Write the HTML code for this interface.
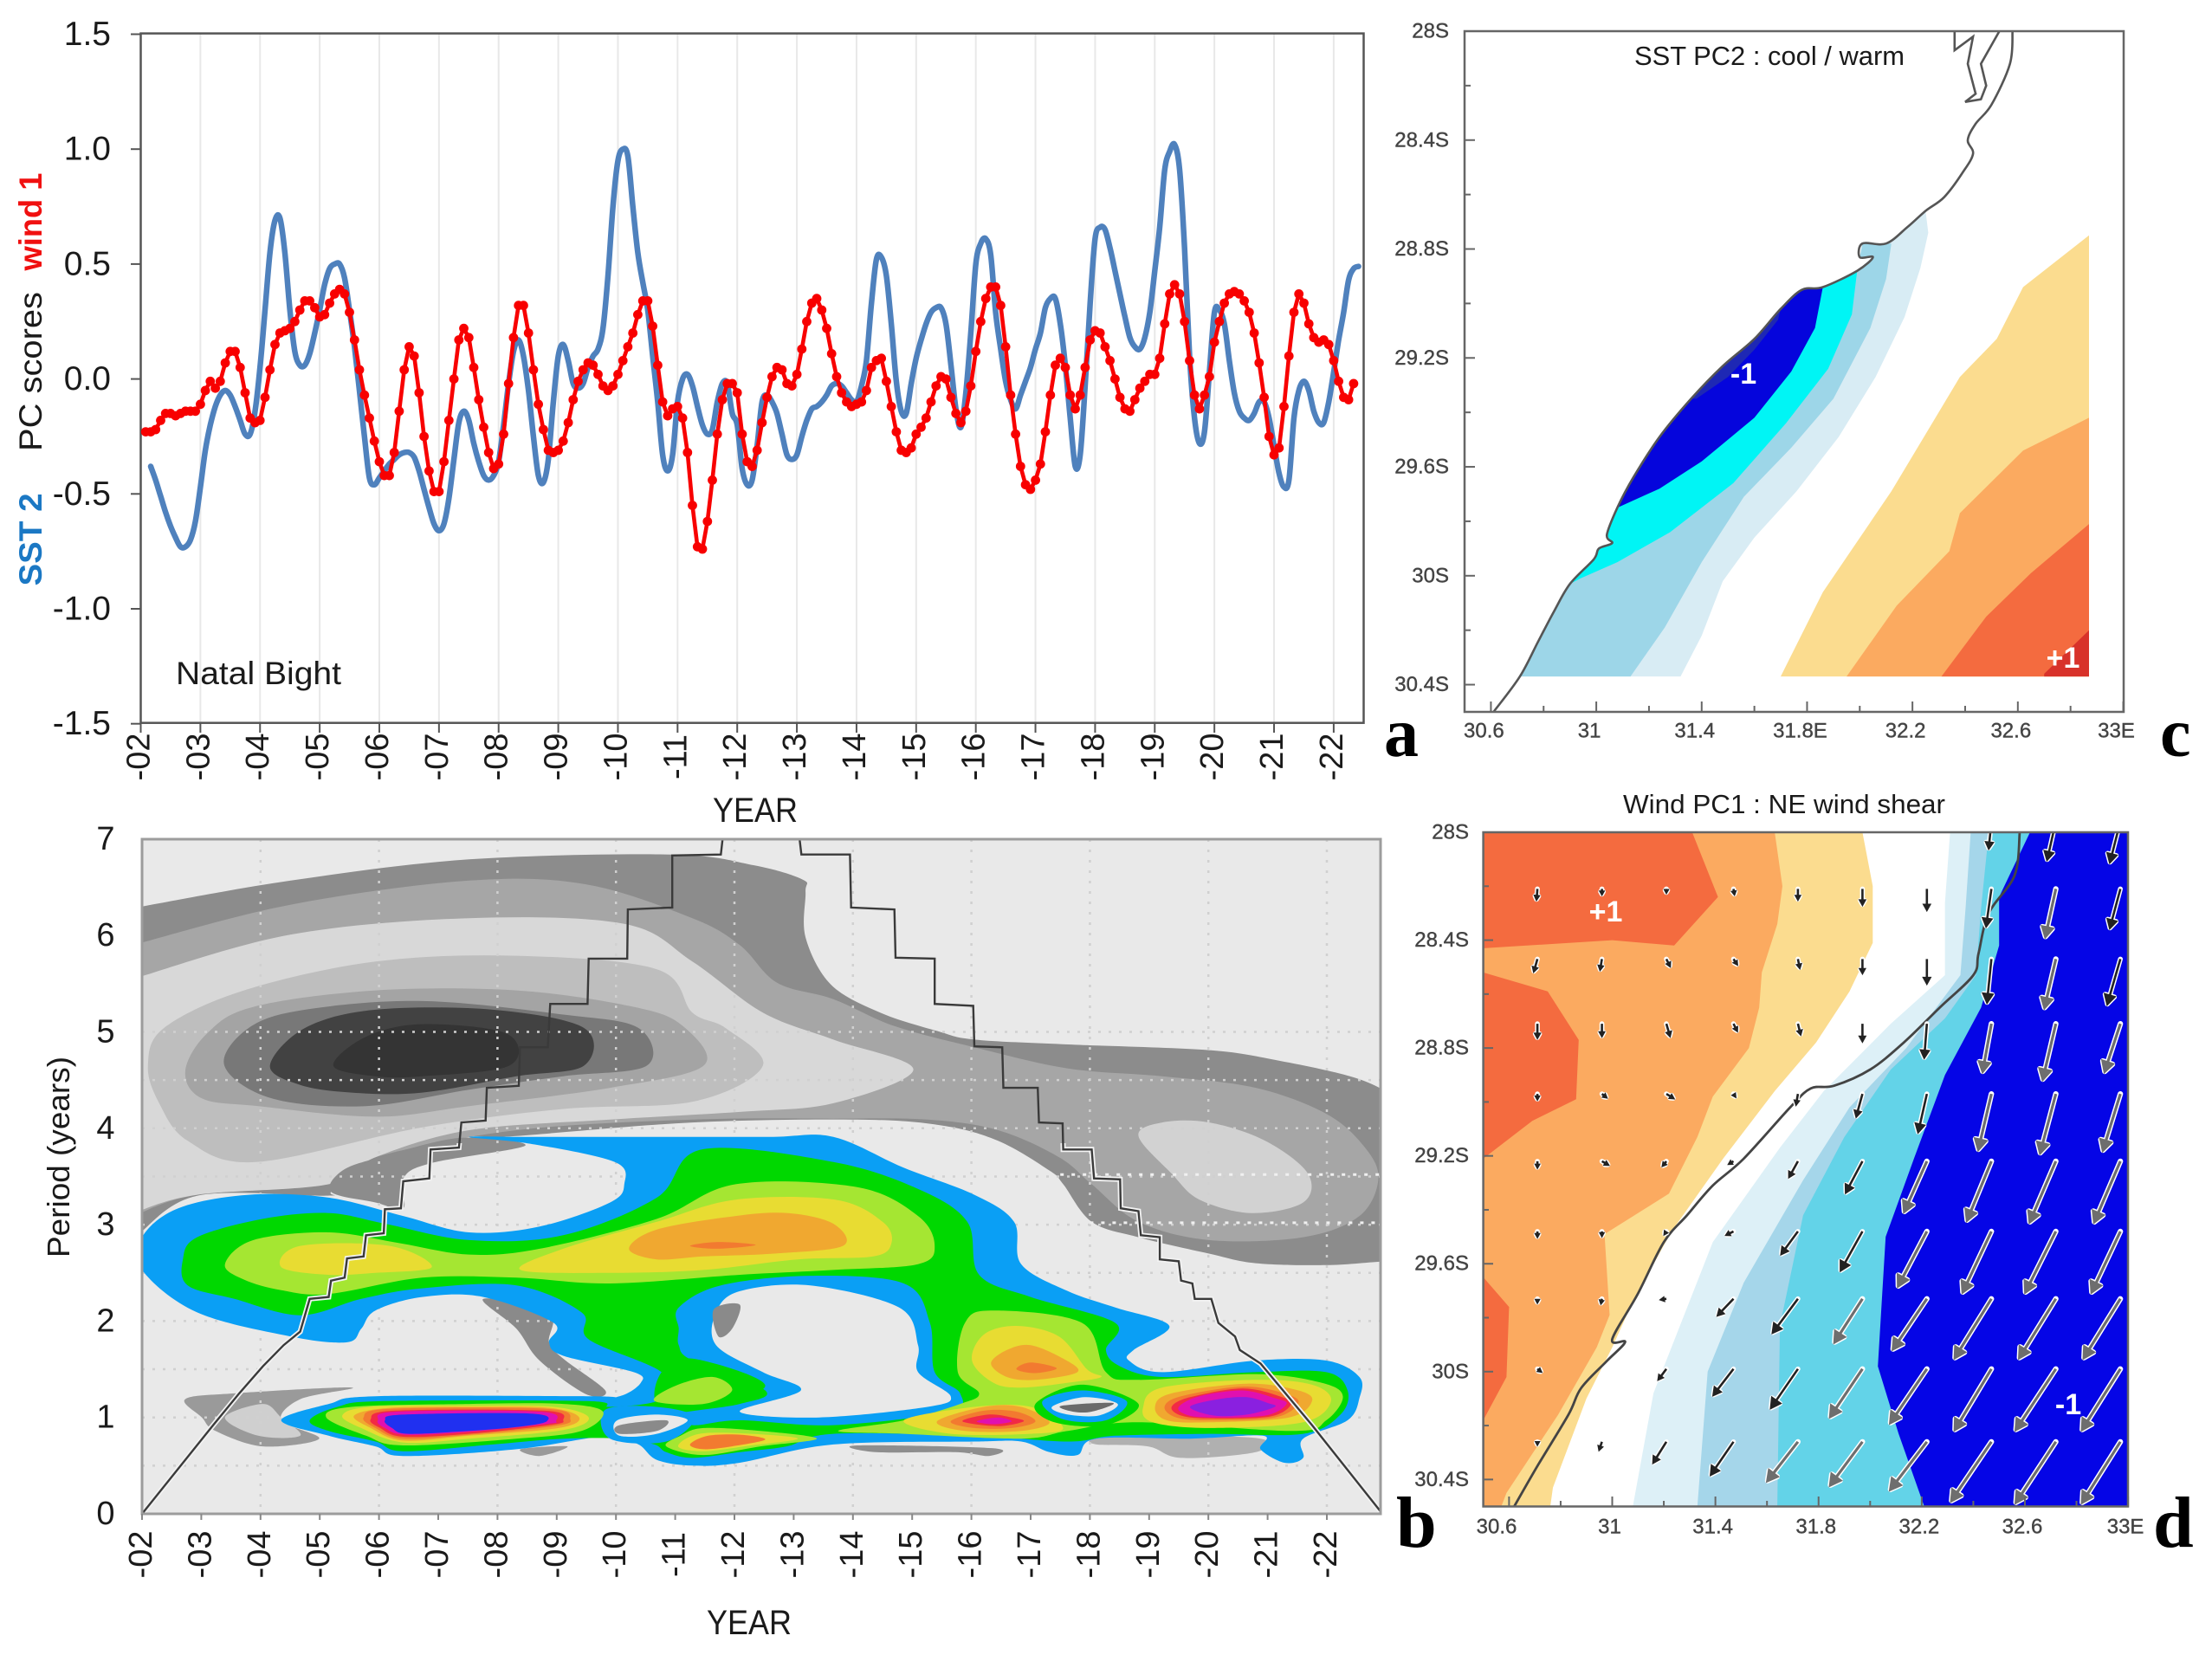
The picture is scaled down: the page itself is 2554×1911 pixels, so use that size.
<!DOCTYPE html>
<html lang="en">
<head>
<meta charset="utf-8">
<title>Natal Bight PC scores, wavelet spectrum and loading maps</title>
<style>
html,body{margin:0;padding:0;background:#fff;}
svg{display:block;}
text{font-family:"Liberation Sans",sans-serif;}
.serif{font-family:"Liberation Serif",serif;font-weight:bold;fill:#000;}
</style>
</head>
<body>
<svg id="fig" xmlns="http://www.w3.org/2000/svg" width="2554" height="1911" viewBox="0 0 2554 1911">
<defs>
<clipPath id="clipB"><rect x="164" y="969" width="1430" height="779"/></clipPath>
<clipPath id="clipBlow"><rect x="164" y="1320" width="1430" height="428"/></clipPath>
<clipPath id="clipC"><rect x="1691" y="36" width="761" height="786"/></clipPath>
<clipPath id="clipD"><rect x="1713" y="961" width="744" height="779"/></clipPath>
</defs>
<rect x="0" y="0" width="2554" height="1911" fill="#fff"/>
<g id="panelA"></g>
<g id="panelB"></g>
<g id="panelC"></g>
<g id="panelD"></g>

<text transform="translate(48,623) rotate(-90)" text-anchor="middle" font-size="37" font-weight="bold" fill="#1b78c4" textLength="107" lengthAdjust="spacingAndGlyphs">SST 2</text>
<text transform="translate(48,429) rotate(-90)" text-anchor="middle" font-size="37" fill="#1a1a1a" textLength="184" lengthAdjust="spacingAndGlyphs">PC scores</text>
<text transform="translate(48,256) rotate(-90)" text-anchor="middle" font-size="37" font-weight="bold" fill="#f01010" textLength="113" lengthAdjust="spacingAndGlyphs">wind 1</text>
<text x="203" y="790" font-size="37" fill="#1a1a1a" textLength="191" lengthAdjust="spacingAndGlyphs">Natal Bight</text>
<text x="823" y="949" font-size="40" fill="#1a1a1a" textLength="98" lengthAdjust="spacingAndGlyphs">YEAR</text>
<text x="816" y="1887" font-size="40" fill="#1a1a1a" textLength="98" lengthAdjust="spacingAndGlyphs">YEAR</text>
<text transform="translate(80,1336) rotate(-90)" text-anchor="middle" font-size="36" fill="#1a1a1a" textLength="232" lengthAdjust="spacingAndGlyphs">Period (years)</text>
<text x="1887" y="75" font-size="31" fill="#1a1a1a" textLength="312" lengthAdjust="spacingAndGlyphs">SST PC2 : cool / warm</text>
<text x="1874" y="939" font-size="31" fill="#1a1a1a" textLength="372" lengthAdjust="spacingAndGlyphs">Wind PC1 : NE wind shear</text>
<text class="serif" x="1598" y="873" font-size="80">a</text>
<text class="serif" x="1612" y="1786" font-size="84">b</text>
<text class="serif" x="2494" y="873" font-size="80">c</text>
<text class="serif" x="2486" y="1786" font-size="84">d</text>
</svg>
<script>
/* ===== Panel a data: PC scores ===== */
const yearLabels = ['-02','-03','-04','-05','-06','-07','-08','-09','-10','-11','-12','-13','-14','-15','-16','-17','-18','-19','-20','-21','-22'];
const scoreTicks = [1.5,1.0,0.5,0.0,-0.5,-1.0,-1.5];
const scoreTickLabels = ['1.5','1.0','0.5','0.0','-0.5','-1.0','-1.5'];
const windStartYear = 2 + 1/12;
const windScores = [
-.23,-.23,-.22,-.18,-.15,-.15,-.16,-.15,-.14,-.14,-.14,
-.11,-.05,-.01,-.04,-.01,.07,.12,.12,.05,-.06,-.17,-.19,
-.18,-.08,.04,.15,.2,.21,.22,.25,.3,.34,.34,.31,
.27,.28,.33,.37,.39,.37,.29,.17,.04,-.07,-.17,-.27,
-.36,-.42,-.42,-.32,-.14,.04,.14,.1,-.06,-.25,-.4,-.49,
-.49,-.36,-.18,0,.17,.22,.18,.05,-.09,-.21,-.32,-.39,
-.37,-.24,-.02,.18,.32,.32,.2,.04,-.11,-.22,-.31,-.32,
-.31,-.27,-.19,-.09,-.01,.04,.07,.06,.02,-.03,-.05,-.03,
.02,.08,.14,.2,.28,.34,.34,.23,.06,-.1,-.16,-.13,
-.12,-.17,-.32,-.55,-.73,-.74,-.62,-.44,-.24,-.09,-.02,-.02,
-.06,-.24,-.36,-.38,-.31,-.19,-.08,.01,.05,.04,-.02,-.03,
.02,.13,.25,.33,.35,.3,.22,.11,.01,-.06,-.1,-.12,
-.11,-.1,-.05,.05,.08,.09,-.01,-.12,-.23,-.31,-.32,-.3,
-.24,-.21,-.17,-.1,-.03,.01,0,-.08,-.15,-.19,-.14,-.03,
.12,.25,.35,.4,.4,.32,.14,-.07,-.24,-.38,-.46,-.48,
-.44,-.37,-.23,-.07,.06,.09,.05,-.07,-.13,-.07,.05,.17,
.21,.2,.14,.08,0,-.08,-.13,-.14,-.09,-.04,-.01,.02,
.02,.09,.24,.37,.41,.37,.25,.08,-.07,-.13,-.07,.01,
.16,.25,.33,.37,.38,.37,.34,.29,.2,.07,-.08,-.25,
-.33,-.3,-.12,.1,.29,.37,.33,.24,.18,.16,.17,.15,
.08,-.01,-.08,-.09,-.02];
const sstStartYear = 2 + 2/12;
const sstScores = [
-.38,-.44,-.51,-.58,-.64,-.69,-.73,-.73,-.7,-.62,
-.47,-.31,-.2,-.12,-.07,-.05,-.07,-.12,-.18,-.24,-.24,-.14,
.05,.3,.55,.69,.7,.55,.3,.12,.06,.06,.11,.2,
.3,.41,.48,.5,.5,.44,.3,.14,-.05,-.25,-.43,-.46,
-.43,-.4,-.37,-.35,-.33,-.32,-.32,-.34,-.4,-.48,-.56,-.63,
-.66,-.63,-.52,-.35,-.19,-.14,-.18,-.28,-.36,-.42,-.44,-.42,
-.36,-.2,-.02,.12,.17,.1,-.05,-.25,-.42,-.45,-.35,-.1,
.1,.15,.08,-.02,-.04,-.02,.05,.1,.13,.22,.45,.75,
.95,1.0,.97,.75,.55,.42,.3,.1,-.1,-.33,-.4,-.33,
-.1,0,.02,-.03,-.12,-.2,-.24,-.22,-.1,-.02,-.02,-.15,
-.2,-.39,-.46,-.44,-.29,-.1,-.07,-.1,-.15,-.24,-.33,-.35,
-.33,-.25,-.18,-.13,-.12,-.1,-.07,-.03,-.02,-.03,-.06,-.09,
-.1,-.03,.08,.33,.52,.53,.45,.24,-.01,-.14,-.15,-.02,
.09,.17,.24,.29,.31,.31,.24,.06,-.13,-.21,-.06,.2,
.5,.59,.61,.54,.29,.13,-.01,-.09,-.13,-.07,-.01,.05,
.13,.2,.31,.35,.35,.24,.06,-.17,-.38,-.33,-.03,.33,
.61,.66,.65,.57,.47,.37,.27,.18,.14,.13,.18,.29,
.47,.66,.91,.99,1.02,.91,.57,.1,-.17,-.28,-.23,.03,
.29,.3,.24,.08,-.06,-.14,-.17,-.18,-.15,-.1,-.1,-.17,
-.29,-.41,-.47,-.44,-.17,-.05,-.01,-.05,-.14,-.19,-.19,-.1,
.03,.17,.29,.43,.48,.49];

/* ===== Panel b data: wavelet contours as [year (2-digit), period (yr)] ===== */
const periodTicks = [0,1,2,3,4,5,6,7];
const waveletYears = [2,3,4,5,6,7,8,9,10,11,12,13,14,15,16,17,18,19,20,21,22];
const guidePeriods = [0.5,1,1.5,2,2.5,3,3.5,4,4.5,5];
const guideYears = [4,6,8,10,12,14,16,18,20,22];
const grayOuter = [[1.6,6.26],[1.9,6.29],[4.51,6.57],[7.52,6.79],[10.93,6.84],[12.32,6.73],[13.15,6.58],[13.2,6.45],[13.2,5.98],[13.63,5.49],[14.46,5.2],[15.42,5.01],[16.05,4.92],[17.63,4.87],[20.01,4.81],[21.2,4.7],[22.39,4.54],[23,4.38],[23.3,4.2],[23.3,2.6],[23,2.62],[21.99,2.58],[20.8,2.6],[20.01,2.7],[18.82,2.87],[18.03,3.03],[17.55,3.42],[17.32,3.56],[16.45,3.87],[15.49,4.03],[14.07,4.09],[11.29,4.06],[8.32,3.92],[7.36,3.9],[6.41,3.7],[5.46,3.56],[5.19,3.34],[5.07,3.3],[2.93,3.3],[1.9,2.88],[1.6,2.72]];
const graySecond = [[1.6,5.85],[1.9,5.91],[4.51,6.32],[7.52,6.57],[9.5,6.53],[11.29,6.18],[12.09,5.9],[12.72,5.51],[13.67,5.34],[14.7,5.06],[16.05,4.84],[17.63,4.62],[19.22,4.54],[20.8,4.42],[21.99,4.15],[22.63,3.81],[22.87,3.48],[22.55,3.09],[21.6,2.87],[20.01,2.84],[18.82,3.03],[18.03,3.42],[17.48,3.7],[16.45,3.98],[15.26,4.09],[13.67,4.1],[11.29,4.09],[8.32,3.98],[5.94,3.7],[5.15,3.42],[2.93,3.31],[1.9,3.1],[1.6,2.98]];
const grayLight = [[1.6,5.5],[1.9,5.56],[4.51,6.01],[7.52,6.18],[10.14,6.12],[11.29,5.73],[12.48,5.2],[13.67,4.92],[15.02,4.61],[13.67,4.26],[12.09,4.17],[9.9,4.09],[7.52,3.98],[5.94,3.7],[5.15,3.42],[2.93,3.31],[1.9,3.13],[1.6,3.02]];
const grayRing2 = [[2.1,4.65],[2.37,5.04],[3.72,5.43],[5.94,5.73],[8.32,5.79],[10.69,5.65],[11.29,5.2],[11.85,5.04],[12.48,4.65],[11.33,4.28],[9.11,4.2],[6.73,4.01],[3.92,3.65],[2.77,3.87],[2.29,4.26]];
const grayRing3 = [[2.73,4.59],[3.09,4.98],[3.88,5.26],[5.94,5.43],[8.32,5.43],[10.3,5.26],[11.13,5.06],[11.48,4.65],[9.9,4.42],[7.52,4.23],[5.94,4.12],[3.96,4.23],[3.01,4.31]];
const grayRing4 = [[3.39,4.65],[3.8,5.04],[4.75,5.23],[6.73,5.32],[9.11,5.18],[10.38,5.04],[10.52,4.65],[9.11,4.54],[7.52,4.4],[5.78,4.23],[4.19,4.31]];
const grayRing5 = [[4.16,4.65],[4.75,5.04],[5.94,5.23],[7.92,5.23],[9.46,5.04],[9.46,4.65],[8.32,4.54],[6.73,4.37],[5.54,4.37],[4.67,4.45]];
const grayCore = [[5.23,4.65],[5.78,4.95],[6.73,5.08],[8.16,4.98],[8.2,4.65],[6.73,4.54],[5.94,4.54]];
const grayRightBlob = [[18.82,3.92],[19.22,4.06],[20.01,4.06],[20.96,3.87],[21.68,3.53],[21.6,3.23],[20.72,3.12],[19.85,3.26],[19.38,3.53]];
const grayPatchTop = [[5.19,3.34],[5.38,3.56],[6.02,3.7],[7.36,3.9],[8.47,3.82],[6.89,3.64],[6.41,3.48],[6.41,3.17],[5.94,3.23]];
const graySliver = [[7.76,2.23],[8.87,2.09],[8.87,1.78],[9.11,1.61],[9.82,1.28],[9.5,1.24],[8.71,1.59],[8.32,1.92]];
const grayLowerLeft = [[2.73,1.19],[3.56,1.25],[5.54,1.31],[4.67,1.19],[4.35,.97],[4.99,.78],[4.04,.7],[3.24,.86],[3.01,1.0]];
const grayLowerLeftInner = [[3.4,1.0],[4.04,1.14],[4.35,1.0],[4.67,.81],[3.96,.81]];
const grayBottomMid = [[14.07,.71],[16.37,.68],[16.29,.6],[15.73,.64],[14.39,.64]];
const grayBottomRight = [[18.11,.78],[19.22,.81],[20.88,.78],[20.8,.64],[19.54,.58],[18.98,.7],[18.11,.72]];
const grayBottomLeft = [[8.39,.67],[9.18,.7],[8.71,.6]];
const blueOuter = [[2,2.87],[2.61,3.17],[3.8,3.31],[5.15,3.28],[6.41,3.09],[7.52,2.92],[8.71,2.98],[9.9,3.23],[10.14,3.42],[9.98,3.65],[8.55,3.84],[7.52,3.91],[8.6,3.91],[10.69,3.91],[12.6,3.91],[13.67,3.91],[14.86,3.59],[16.05,3.31],[16.72,3.03],[16.84,2.59],[17.63,2.31],[18.43,2.14],[19.34,1.95],[18.74,1.7],[18.66,1.59],[19.22,1.47],[20.8,1.59],[21.99,1.59],[22.55,1.42],[22.55,1.2],[22.35,.97],[21.6,.78],[21.6,.58],[21.28,.53],[20.88,.67],[20.92,.81],[19.69,.78],[18.11,.78],[17.79,.61],[17.32,.64],[16.84,.75],[16.05,.75],[13.67,.72],[12.09,.53],[11.29,.5],[10.69,.56],[10.38,.72],[9.9,.81],[8.32,.67],[6.41,.6],[5.94,.7],[5.15,.81],[4.35,.97],[5.15,1.14],[5.94,1.22],[9.5,1.22],[10.06,1.22],[10.42,1.36],[10.3,1.47],[9.11,1.64],[8.87,1.78],[8.95,1.98],[7.76,2.25],[6.73,2.25],[5.94,2.11],[5.7,1.92],[5.46,1.78],[4.51,1.84],[2.93,2.09],[2,2.53]];
const greenMain = [[2.69,2.64],[2.93,2.87],[4.04,3.06],[5.15,3.12],[6.1,3.01],[7.52,2.84],[9.11,2.89],[10.69,3.28],[11.45,3.78],[13.67,3.65],[15.1,3.37],[15.93,3.03],[16.13,2.48],[17,2.25],[18.43,1.98],[18.27,1.7],[18.51,1.53],[19.22,1.42],[20.8,1.47],[21.99,1.47],[22.35,1.28],[22.23,1.03],[21.6,.83],[20.01,.83],[18.43,.81],[17.63,.75],[16.05,.81],[13.67,.83],[12.88,.7],[12.09,.64],[11.29,.58],[10.85,.64],[10.65,.72],[10.14,.78],[9.11,.78],[7.92,.72],[6.41,.65],[5.94,.75],[5.15,.86],[4.83,.97],[5.3,1.11],[6.1,1.17],[9.5,1.17],[9.9,1.11],[10.77,1.19],[10.77,1.47],[9.54,1.81],[9.42,2.09],[8.32,2.37],[6.73,2.34],[5.7,2.23],[4.67,2.06],[3.56,2.23],[2.77,2.37]];
const blueInner = [[11.06,1.92],[11.06,2.14],[11.77,2.37],[13.28,2.47],[14.86,2.39],[15.3,1.98],[15.38,1.47],[15.81,1.25],[15.61,1.06],[13.67,.92],[12.09,.97],[11.29,.92],[10.98,1.03],[12.09,1.14],[12.52,1.28],[11.29,1.59],[11.06,1.75]];
const holeMiddle = [[11.69,2.09],[12.09,2.31],[13.28,2.37],[14.78,2.14],[15.1,1.75],[15.1,1.47],[15.65,1.22],[15.26,1.11],[13.43,1.0],[12.09,1.06],[13.12,1.28],[12.48,1.47],[11.69,1.75]];
const grayInHole = [[11.65,2.12],[12.09,2.17],[11.96,1.92],[11.73,1.84]];
const greenWedge = [[10.77,1.47],[11.29,1.61],[12.52,1.33],[11.33,1.08],[10.69,1.14]];
const limeIsland = [[10.65,1.17],[11.01,1.33],[11.64,1.42],[11.96,1.28],[11.48,1.14]];
const blueSmallBlob = [[9.82,1.08],[10.69,1.11],[11.33,1.0],[10.85,.75],[9.9,.78]];
const holeSmall = [[10.02,.97],[10.69,1.03],[11.21,.97],[10.69,.83],[10.06,.81]];
const grayInSmallHole = [[10.06,.92],[10.85,.97],[10.69,.86],[10.06,.83]];
const limeUpper = [[3.4,2.59],[3.88,2.84],[5.15,2.92],[6.33,2.81],[7.52,2.69],[8.71,2.75],[10.69,3.06],[12.02,3.42],[14.07,3.39],[15.1,3.09],[15.38,2.78],[15.1,2.59],[13.67,2.53],[12.09,2.48],[9.9,2.39],[8.32,2.45],[6.73,2.45],[5.15,2.28],[4.35,2.32],[3.72,2.43]];
const yellowUpperLeft = [[4.35,2.56],[4.67,2.78],[6.18,2.78],[6.89,2.56],[5.94,2.5],[5.15,2.48]];
const yellowUpperRight = [[8.39,2.53],[9.11,2.75],[10.69,3.03],[12.02,3.26],[13.7,3.26],[14.5,3.03],[14.65,2.81],[14.34,2.67],[13.07,2.64],[11.48,2.53],[9.9,2.5]];
const orangeUpper = [[10.22,2.75],[10.69,2.95],[12.02,3.09],[12.91,3.12],[13.67,3.01],[13.83,2.78],[12.67,2.7],[11.48,2.67],[10.69,2.64]];
const redOrangeUpper = [[11.25,2.78],[11.72,2.82],[12.36,2.79],[11.72,2.75]];
const annualLime = [[5.11,1],[5.54,1.11],[7.52,1.14],[9.11,1.14],[9.78,1.06],[9.42,.86],[8.32,.78],[6.41,.71],[5.78,.81]];
const annualYellow = [[5.38,1.02],[5.86,1.11],[7.52,1.12],[8.95,1.11],[9.54,1],[9.11,.87],[7.52,.78],[6.41,.74],[5.7,.89]];
const annualOrange = [[5.58,1.02],[6.18,1.1],[7.52,1.11],[8.87,1.1],[9.38,1],[9.03,.89],[7.52,.81],[6.41,.76],[5.86,.89]];
const annualRedOrange = [[5.74,1],[6.18,1.09],[8.83,1.09],[9.23,.98],[8.95,.91],[7.52,.82],[6.41,.78],[5.94,.89]];
const annualRed = [[5.86,.98],[6.26,1.07],[8.79,1.07],[9.11,.97],[8.87,.92],[7.52,.83],[6.41,.8],[6.02,.89]];
const annualMagenta = [[5.98,.97],[6.29,1.06],[8.71,1.06],[8.99,.96],[8.79,.93],[7.52,.85],[6.45,.82],[6.1,.89]];
const annualBlue = [[6.1,.97],[6.41,1.03],[8.55,1.04],[8.83,.96],[8.32,.9],[7.52,.86],[6.49,.83],[6.22,.89]];
const lowerLime = [[10.85,.7],[11.09,.81],[11.48,.89],[12.44,.86],[13.39,.78],[12.44,.7],[11.48,.61]];
const lowerYellow = [[11.05,.7],[11.41,.83],[12.28,.83],[13.07,.78],[12.28,.71],[11.48,.65]];
const lowerOrange = [[11.25,.72],[11.56,.81],[12.12,.82],[12.52,.77],[11.96,.7],[11.48,.67]];
const limeRight = [[13.75,.86],[14.86,.97],[15.81,1.14],[16.13,1.25],[15.77,1.47],[15.89,1.98],[16.37,2.11],[17.87,1.98],[18.27,1.47],[18.82,1.39],[20.8,1.45],[21.91,1.36],[22.27,1.22],[21.99,.97],[21.43,.86],[18.82,.95],[17.63,.86],[16.84,.78],[14.86,.83]];
const yellowMid = [[16.01,1.59],[16.21,1.86],[16.76,1.95],[17.48,1.84],[17.95,1.5],[18.19,1.42],[17.63,1.36],[16.84,1.31],[16.37,1.36]];
const orangeMid = [[16.33,1.56],[16.6,1.7],[17,1.75],[17.55,1.61],[17.79,1.47],[17.08,1.39],[16.6,1.42]];
const redOrangeMid = [[16.76,1.5],[17,1.57],[17.44,1.51],[17.08,1.46]];
const yellowLow = [[14.86,.97],[16.05,1.11],[17,1.11],[17.55,.89],[17,.83],[15.65,.83]];
const orangeLow = [[15.42,.96],[16.21,1.11],[16.84,1.11],[17.32,.95],[16.84,.86],[15.89,.86]];
const redOrangeLow = [[15.65,.96],[16.21,1.07],[16.76,1.06],[17.08,.96],[16.68,.89],[16.05,.89]];
const redLow = [[15.85,.96],[16.29,1.03],[16.68,1],[16.88,.96],[16.45,.91]];
const magentaLow = [[16.09,.96],[16.45,1],[16.68,.96],[16.37,.93]];
const rightYellow = [[18.9,1.11],[19.22,1.31],[20.8,1.39],[21.75,1.34],[22.07,1.17],[21.6,.95],[20.01,.89],[19.06,.95]];
const rightOrange = [[19.1,1.11],[19.38,1.25],[20.65,1.35],[21.52,1.28],[21.75,1.17],[21.36,1],[20.01,.95],[19.3,.97]];
const rightRedOrange = [[19.26,1.11],[19.54,1.22],[20.57,1.32],[21.28,1.25],[21.52,1.15],[21.12,1],[20.01,.97],[19.46,1]];
const rightRed = [[19.38,1.11],[19.69,1.21],[20.57,1.3],[21.2,1.22],[21.4,1.14],[21.04,1.01],[20.01,.99],[19.54,1.02]];
const rightMagenta = [[19.5,1.11],[19.85,1.22],[20.57,1.28],[21.12,1.2],[21.32,1.14],[20.96,1.02],[20.01,1],[19.62,1.03]];
const rightPurple = [[19.69,1.11],[20.17,1.19],[20.65,1.21],[21,1.15],[21.12,1.11],[20.65,1.03],[20.09,1.02]];
const ringGreen = [[17.08,1.14],[17.87,1.34],[18.82,1.14],[18.27,.92],[17.4,.95]];
const ringBlue = [[17.2,1.17],[17.87,1.28],[18.62,1.17],[18.27,.97],[17.55,.98]];
const ringHole = [[17.36,1.11],[17.91,1.21],[18.47,1.14],[18.15,1.02],[17.63,1.03]];
const ringGray = [[17.52,1.12],[18.39,1.15],[18.03,1.06],[17.71,1.06]];
const coiLeft = [[2,0],[3.2,.92],[3.64,1.25],[4.04,1.53],[4.39,1.75],[4.67,1.89],[4.83,2.23],[5.15,2.25],[5.19,2.42],[5.42,2.45],[5.46,2.65],[5.74,2.67],[5.78,2.89],[6.08,2.91],[6.1,3.16],[6.37,3.17],[6.41,3.45],[6.85,3.48],[6.87,3.78],[7.35,3.8],[7.39,4.06],[7.8,4.08],[7.82,4.42],[8.36,4.44],[8.38,4.84],[8.85,4.84],[8.89,5.29],[9.52,5.29],[9.54,5.76],[10.19,5.76],[10.2,6.27],[10.95,6.29],[10.95,6.83],[11.77,6.84],[11.8,7]];
const coiRight = [[13.1,7],[13.13,6.84],[13.95,6.84],[13.97,6.29],[14.7,6.27],[14.72,5.77],[15.38,5.76],[15.38,5.29],[16.03,5.27],[16.05,4.85],[16.52,4.84],[16.54,4.42],[17.12,4.42],[17.14,4.06],[17.54,4.05],[17.55,3.78],[18.03,3.78],[18.07,3.48],[18.51,3.47],[18.52,3.17],[18.82,3.14],[18.86,2.89],[19.18,2.87],[19.18,2.64],[19.5,2.62],[19.54,2.42],[19.73,2.39],[19.77,2.23],[20.05,2.23],[20.17,1.98],[20.45,1.84],[20.53,1.7],[20.88,1.56],[21.75,.92],[22.9,.03]];

/* ===== Panel c data: SST loading contours as [lon E, lat S] ===== */
const mapLatTicks = [28,28.4,28.8,29.2,29.6,30,30.4];
const mapLatLabels = ['28S','28.4S','28.8S','29.2S','29.6S','30S','30.4S'];
const mapLonTicks = [30.6,31,31.4,31.8,32.2,32.6,33];
const mapLonLabelsC = ['30.6','31','31.4','31.8E','32.2','32.6','33E'];
const mapLonLabelsD = ['30.6','31','31.4','31.8','32.2','32.6','33E'];
const coastC = [[32.58,28],[32.57,28.12],[32.5,28.27],[32.44,28.34],[32.41,28.4],[32.43,28.45],[32.39,28.52],[32.32,28.61],[32.25,28.66],[32.18,28.72],[32.1,28.78],[32.01,28.78],[32,28.83],[32.05,28.83],[31.99,28.88],[31.86,28.94],[31.78,28.95],[31.7,29.02],[31.6,29.13],[31.48,29.23],[31.36,29.35],[31.24,29.49],[31.14,29.64],[31.08,29.75],[31.04,29.85],[31.06,29.88],[31.01,29.9],[30.99,29.94],[30.9,30.03],[30.84,30.13],[30.78,30.24],[30.71,30.37],[30.61,30.5]];
const inletC = [[32.36,28],[32.36,28.07],[32.43,28.02],[32.41,28.12],[32.44,28.23],[32.4,28.26],[32.46,28.25],[32.48,28.2],[32.46,28.12],[32.53,28]];
const sstLightBlueEdge = [[32.26,28.74],[32.23,28.87],[32.17,29.05],[32.06,29.27],[31.92,29.49],[31.76,29.69],[31.6,29.86],[31.48,30.02],[31.4,30.22],[31.32,30.37],[30.71,30.37]];
const sstMidBlueEdge = [[32.12,28.78],[32.1,28.91],[32.04,29.09],[31.9,29.35],[31.74,29.53],[31.56,29.71],[31.4,29.95],[31.26,30.19],[31.13,30.37],[30.71,30.37]];
const sstCyanEdge = [[31.97,29.04],[31.88,29.24],[31.72,29.44],[31.52,29.66],[31.28,29.84],[31.08,29.95],[30.94,30.01]];
const sstDeepBlueEdge = [[31.86,28.94],[31.83,29.09],[31.74,29.25],[31.6,29.42],[31.4,29.58],[31.24,29.68]];
const sstGrayBlueEdge = [[31.69,29.06],[31.6,29.17],[31.5,29.27],[31.38,29.35]];
const sstWarm1 = [[32.87,28.75],[32.62,28.94],[32.52,29.13],[32.38,29.27],[32.12,29.69],[31.86,30.06],[31.7,30.37],[32.87,30.37]];
const sstWarm2 = [[32.87,29.42],[32.62,29.54],[32.38,29.77],[32.34,29.91],[32.14,30.11],[31.95,30.37],[32.87,30.37]];
const sstWarm3 = [[32.87,29.81],[32.65,29.99],[32.48,30.15],[32.31,30.37],[32.87,30.37]];
const sstWarm4 = [[32.87,30.2],[32.7,30.36],[32.7,30.37],[32.87,30.37]];

/* ===== Panel d data: wind loading contours and vectors ===== */
const windLightOrange = [[31.97,28],[32.01,28.2],[32.01,28.41],[31.92,28.59],[31.79,28.78],[31.63,28.96],[31.43,29.21],[31.23,29.48],[31.08,29.74],[31,29.91],[30.9,30.1],[30.77,30.43],[30.76,30.5],[30.5,30.5],[30.5,28]];
const windOrange = [[31.63,28],[31.66,28.2],[31.64,28.34],[31.58,28.52],[31.57,28.65],[31.53,28.8],[31.39,28.98],[31.33,29.13],[31.22,29.34],[30.97,29.49],[30.99,29.79],[30.94,29.91],[30.79,30.16],[30.59,30.45],[30.57,30.5],[30.5,30.5],[30.5,28]];
const windRedTop = [[30.5,28],[31.31,28],[31.41,28.24],[31.24,28.42],[31,28.4],[30.5,28.43]];
const windRedMid = [[30.5,28.52],[30.75,28.59],[30.87,28.77],[30.86,28.99],[30.69,29.07],[30.5,29.21]];
const windRedLow = [[30.5,29.65],[30.6,29.76],[30.59,30.02],[30.5,30.18]];
const windLightBlue = [[32.31,28],[32.29,28.26],[32.29,28.53],[32.08,28.71],[31.82,28.96],[31.65,29.17],[31.39,29.52],[31.16,30.08],[31.08,30.5],[33,30.5],[33,28]];
const windMidBlue = [[32.39,28],[32.37,28.28],[32.35,28.53],[32.14,28.8],[31.92,29.02],[31.74,29.29],[31.51,29.67],[31.37,30],[31.33,30.5],[33,30.5],[33,28]];
const windTeal = [[32.46,28],[32.43,28.28],[32.41,28.53],[32.29,28.69],[32.08,28.88],[31.9,29.13],[31.74,29.42],[31.65,29.83],[31.64,30.5],[33,30.5],[33,28]];
const windDeepBlue = [[32.62,28],[32.5,28.24],[32.5,28.42],[32.43,28.65],[32.29,28.9],[32.17,29.21],[32.06,29.5],[32.03,29.98],[32.11,30.23],[32.21,30.5],[33,30.5],[33,28]];
const coastD = [[32.58,28],[32.56,28.16],[32.46,28.3],[32.42,28.45],[32.4,28.53],[32.27,28.65],[32.13,28.78],[32,28.88],[31.86,28.94],[31.77,28.95],[31.69,29.02],[31.51,29.21],[31.39,29.31],[31.29,29.42],[31.2,29.52],[31.1,29.71],[31,29.88],[31.05,29.89],[30.98,29.96],[30.88,30.06],[30.83,30.16],[30.71,30.35],[30.62,30.5]];
const vectorLons = [30.71,30.96,31.21,31.47,31.72,31.97,32.22,32.47,32.72,32.97];
const vectorLats = [27.96,28.21,28.47,28.71,28.97,29.22,29.48,29.73,29.99,30.26];
const vectorU = [
[0,0,0,0,0,0,0,-.3,-1,-1.2],
[-.1,0,0,.1,0,0,0,-.6,-1.2,-1.2],
[-.4,-.2,.4,.4,.2,0,0,-.5,-1.3,-1.5],
[0,0,.4,.4,.3,0,-.3,-1,-1.5,-1.8],
[0,.5,.8,.2,-.2,-.7,-1,-1.5,-1.8,-2],
[0,.7,-.4,-.5,-1,-1.9,-2.6,-2.8,-3,-3],
[0,0,-.2,-.8,-1.9,-2.5,-3.3,-3.3,-3.5,-3.3],
[0,-.1,-.6,-1.8,-2.9,-3.2,-3.9,-4.2,-4.2,-4.2],
[.4,0,-.9,-2.3,-3.1,-3.7,-4.2,-4.2,-4.6,-4.4],
[0,-.3,-1.5,-2.6,-3.5,-3.7,-4.2,-4.6,-4.6,-4.4]];
const vectorV = [
[0,0,0,0,0,0,0,-3.1,-4.4,-4.7],
[-1.2,-.6,-.4,-.6,-1.2,-1.8,-2.4,-4.3,-5.5,-4.5],
[-1.4,-1.2,-.8,-.6,-1,-1.6,-2.8,-5,-5.6,-5.2],
[-1.6,-1.4,-1.4,-.8,-1.2,-2,-3.9,-5.5,-6.4,-5.5],
[-.6,-.4,-.5,-.3,-1.2,-2.6,-4.4,-6.4,-6.8,-6.5],
[-.7,-.4,-.5,-.3,-1.8,-3.6,-5.8,-6.8,-7,-7],
[-.6,-.5,-.3,-.4,-2.6,-4.5,-6.3,-7,-7,-7],
[-.4,-.5,-.1,-1.9,-3.9,-5,-5.8,-6.8,-6.8,-6.8],
[-.3,0,-1.2,-3,-4.5,-5.5,-6.2,-7,-7,-7],
[-.3,-.9,-2.4,-3.8,-4.5,-5,-5.5,-6.8,-7,-7]];

/* ===== helpers ===== */
const NS = 'http://www.w3.org/2000/svg';
function make(parent, tag, name, attrs, txt){
  const el = document.createElementNS(NS, tag);
  
  
  for (const k in attrs) el.setAttribute(k, attrs[k]);
  if (txt !== undefined) el.textContent = txt;
  parent.appendChild(el);
  return el;
}
function closedSmooth(pts){
  const n = pts.length;
  let d = 'M' + pts[0][0].toFixed(1) + ' ' + pts[0][1].toFixed(1);
  for (let i = 0; i < n; i++){
    const p0 = pts[(i-1+n)%n], p1 = pts[i], p2 = pts[(i+1)%n], p3 = pts[(i+2)%n];
    d += 'C' + (p1[0]+(p2[0]-p0[0])/6).toFixed(1) + ' ' + (p1[1]+(p2[1]-p0[1])/6).toFixed(1) + ' ' +
         (p2[0]-(p3[0]-p1[0])/6).toFixed(1) + ' ' + (p2[1]-(p3[1]-p1[1])/6).toFixed(1) + ' ' +
         p2[0].toFixed(1) + ' ' + p2[1].toFixed(1);
  }
  return d + 'Z';
}
function openSmooth(pts){
  let d = 'M' + pts[0][0].toFixed(1) + ' ' + pts[0][1].toFixed(1);
  for (let i = 0; i < pts.length-1; i++){
    const p0 = pts[Math.max(i-1,0)], p1 = pts[i], p2 = pts[i+1], p3 = pts[Math.min(i+2,pts.length-1)];
    d += 'C' + (p1[0]+(p2[0]-p0[0])/6).toFixed(1) + ' ' + (p1[1]+(p2[1]-p0[1])/6).toFixed(1) + ' ' +
         (p2[0]-(p3[0]-p1[0])/6).toFixed(1) + ' ' + (p2[1]-(p3[1]-p1[1])/6).toFixed(1) + ' ' +
         p2[0].toFixed(1) + ' ' + p2[1].toFixed(1);
  }
  return d;
}
function straight(pts, close){
  return 'M' + pts.map(p => p[0].toFixed(1) + ' ' + p[1].toFixed(1)).join('L') + (close ? 'Z' : '');
}

/* ===== Panel a ===== */
(function(){
  const g = document.getElementById('panelA');
  const xA = y => 162.5 + (y - 2) * 68.87;
  const yA = v => 437.6 - v * 265.4;
  yearLabels.forEach((lab, i) => {
    const yr = 2 + i;
    if (i > 0) make(g, 'line', 'year-gridline', {x1:xA(yr), x2:xA(yr), y1:38.6, y2:834.7, stroke:'#e8e8e8', 'stroke-width':2});
    make(g, 'line', 'x-tick', {x1:xA(yr), x2:xA(yr), y1:834.7, y2:846, stroke:'#555', 'stroke-width':2});
    make(g, 'text', 'x-tick-label', {transform:'translate(' + (xA(yr)-2) + ',874) rotate(-90)', 'text-anchor':'middle', 'dominant-baseline':'central', 'font-size':38, fill:'#1a1a1a'}, lab);
  });
  scoreTicks.forEach((v, i) => {
    make(g, 'line', 'y-tick', {x1:151, x2:162.5, y1:yA(v), y2:yA(v), stroke:'#555', 'stroke-width':2});
    make(g, 'text', 'y-tick-label', {x:128, y:yA(v), 'text-anchor':'end', 'dominant-baseline':'central', 'font-size':39, fill:'#1a1a1a'}, scoreTickLabels[i]);
  });
  make(g, 'rect', 'plot-frame', {x:162.5, y:38.6, width:1412, height:796.1, fill:'none', stroke:'#555', 'stroke-width':2.5});
  const sstPts = sstScores.map((v, i) => [xA(sstStartYear + i/12), yA(v)]);
  make(g, 'path', 'sst-2-line', {d:openSmooth(sstPts), fill:'none', stroke:'#4f81bd', 'stroke-width':6.5, 'stroke-linejoin':'round', 'stroke-linecap':'round'});
  const windPts = windScores.map((v, i) => [xA(windStartYear + i/12), yA(v)]);
  make(g, 'path', 'wind-1-line', {d:straight(windPts,false), fill:'none', stroke:'#f80000', 'stroke-width':4.6, 'stroke-linejoin':'round'});
  windPts.forEach(p => {
    make(g, 'circle', 'wind-1-point', {cx:p[0].toFixed(1), cy:p[1].toFixed(1), r:5.4, fill:'#f80000'});
  });
})();

/* ===== Panel b ===== */
(function(){
  const g = document.getElementById('panelB');
  const xB = y => 164 + (y - 2) * 68.4;
  const yB = p => 1748 - p * 111.3;
  const toPx = arr => arr.map(a => [xB(a[0]), yB(a[1])]);
  make(g, 'rect', 'plot-background', {x:164, y:969, width:1430, height:779, fill:'#e9e9e9'});
  const clip = make(g, 'g', 'wavelet-contours', {'clip-path':'url(#clipB)'});
  const BG = '#e9e9e9', BLUE = '#0a9ff5', GREEN = '#00d800', LIME = '#a5e632', YEL = '#e8dc32', ORG = '#f0a830', ROR = '#f27a30', RED = '#f22a44', MAG = '#e010b0', IND = '#2030f0';
  const grayLayers = [
    [grayOuter,'#8c8c8c','gray-contour-1'],[graySecond,'#a6a6a6','gray-contour-2'],[grayLight,'#d8d8d8','gray-contour-3'],
    [grayRing2,'#bebebe','gray-contour-4'],[grayRing3,'#a4a4a4','gray-contour-5'],[grayRing4,'#787878','gray-contour-6'],
    [grayRing5,'#424242','gray-contour-7'],[grayCore,'#343434','gray-contour-core'],[grayRightBlob,'#d2d2d2','gray-contour-right-blob'],
    [grayPatchTop,'#8c8c8c','gray-patch-top'],[graySliver,'#8a8a8a','gray-sliver'],[grayLowerLeft,'#9a9a9a','gray-patch-lower-left'],
    [grayLowerLeftInner,'#cfcfcf','gray-patch-lower-left-inner'],[grayBottomMid,'#8e8e8e','gray-patch-bottom-mid'],
    [grayBottomRight,'#b0b0b0','gray-patch-bottom-right'],[grayBottomLeft,'#9a9a9a','gray-patch-bottom-left']
  ];
  grayLayers.forEach(l => {
    make(clip, 'path', l[2], {d:closedSmooth(toPx(l[0])), fill:l[1]});
  });
  guidePeriods.forEach(p => {
    make(clip, 'line', 'period-guide', {x1:164, x2:1594, y1:yB(p), y2:yB(p), stroke:'#d0d0d0', 'stroke-width':2.5, 'stroke-dasharray':'3 9'});
  });
  guideYears.forEach(y => {
    make(clip, 'line', 'year-guide', {x1:xB(y), x2:xB(y), y1:969, y2:1748, stroke:'#d0d0d0', 'stroke-width':2.5, 'stroke-dasharray':'3 9'});
  });
  make(clip, 'line', 'bright-guide-3-5', {x1:xB(17.5), x2:1594, y1:yB(3.52), y2:yB(3.52), stroke:'#f0f0f0', 'stroke-width':3, 'stroke-dasharray':'4 9'});
  make(clip, 'line', 'bright-guide-3', {x1:xB(18), x2:1594, y1:yB(3.02), y2:yB(3.02), stroke:'#f0f0f0', 'stroke-width':3, 'stroke-dasharray':'4 9'});
  const colourLayers = [
    [blueOuter,BLUE,'power-blue'],[greenMain,GREEN,'power-green'],[blueInner,BLUE,'power-blue-inner'],[holeMiddle,BG,'power-hole-middle'],
    [grayInHole,'#8a8a8a','gray-in-hole'],[greenWedge,GREEN,'power-green-wedge'],[limeIsland,LIME,'power-lime-island'],
    [blueSmallBlob,BLUE,'power-blue-small'],[holeSmall,BG,'power-hole-small'],[grayInSmallHole,'#8a8a8a','gray-in-small-hole'],
    [limeUpper,LIME,'power-lime-upper'],[yellowUpperLeft,YEL,'power-yellow-upper-left'],[yellowUpperRight,YEL,'power-yellow-upper-right'],
    [orangeUpper,ORG,'power-orange-upper'],[redOrangeUpper,ROR,'power-red-orange-upper'],
    [annualLime,LIME,'annual-lime'],[annualYellow,YEL,'annual-yellow'],[annualOrange,ORG,'annual-orange'],[annualRedOrange,ROR,'annual-red-orange'],
    [annualRed,RED,'annual-red'],[annualMagenta,MAG,'annual-magenta'],[annualBlue,IND,'annual-blue'],
    [lowerLime,LIME,'lower-lime'],[lowerYellow,YEL,'lower-yellow'],[lowerOrange,ROR,'lower-orange'],
    [limeRight,LIME,'power-lime-right'],[yellowMid,YEL,'power-yellow-mid'],[orangeMid,ORG,'power-orange-mid'],[redOrangeMid,ROR,'power-red-orange-mid'],
    [yellowLow,YEL,'low-yellow'],[orangeLow,ORG,'low-orange'],[redOrangeLow,ROR,'low-red-orange'],[redLow,RED,'low-red'],[magentaLow,MAG,'low-magenta'],
    [rightYellow,YEL,'right-yellow'],[rightOrange,ORG,'right-orange'],[rightRedOrange,ROR,'right-red-orange'],[rightRed,RED,'right-red'],[rightMagenta,MAG,'right-magenta'],[rightPurple,'#8a20e0','right-purple'],
    [ringGreen,GREEN,'ring-green'],[ringBlue,BLUE,'ring-blue'],[ringHole,BG,'ring-hole'],[ringGray,'#6a6a6a','ring-gray']
  ];
  colourLayers.forEach(l => {
    make(clip, 'path', l[2], {d:closedSmooth(toPx(l[0])), fill:l[1]});
  });
  const halo = make(g, 'g', 'coi-halo', {'clip-path':'url(#clipBlow)'});
  make(halo, 'path', 'coi-left-halo', {d:straight(toPx(coiLeft),false), fill:'none', stroke:'#f2f2f2', 'stroke-width':6});
  make(halo, 'path', 'coi-right-halo', {d:straight(toPx(coiRight),false), fill:'none', stroke:'#f2f2f2', 'stroke-width':6});
  make(g, 'path', 'coi-left-line', {d:straight(toPx(coiLeft),false), fill:'none', stroke:'#3a3a3a', 'stroke-width':2.4});
  make(g, 'path', 'coi-right-line', {d:straight(toPx(coiRight),false), fill:'none', stroke:'#3a3a3a', 'stroke-width':2.4});
  make(g, 'rect', 'plot-frame', {x:164, y:969, width:1430, height:779, fill:'none', stroke:'#9c9c9c', 'stroke-width':3});
  periodTicks.forEach(p => {
    make(g, 'text', 'y-tick-label', {x:122, y:yB(p), 'text-anchor':'middle', 'dominant-baseline':'central', 'font-size':38, fill:'#1a1a1a'}, String(p));
  });
  waveletYears.forEach((y, i) => {
    make(g, 'line', 'x-tick', {x1:xB(y), x2:xB(y), y1:1748, y2:1755, stroke:'#888', 'stroke-width':2});
    make(g, 'text', 'x-tick-label', {transform:'translate(' + (xB(y)-1) + ',1795) rotate(-90)', 'text-anchor':'middle', 'dominant-baseline':'central', 'font-size':38, fill:'#1a1a1a'}, yearLabels[i]);
  });
})();

/* ===== Panel c ===== */
(function(){
  const g = document.getElementById('panelC');
  const xC = lon => 1691 + (lon - 30.5) * 304.2;
  const yC = lat => 36 + (lat - 28) * 314.4;
  const toPx = arr => arr.map(a => [xC(a[0]), yC(a[1])]);
  const clip = make(g, 'g', 'sst-contours', {'clip-path':'url(#clipC)'});
  const rev = (a, b) => coastC.slice(a, b).reverse();
  const layers = [
    [sstWarm1,'#fbdc8f','warm-contour-1'],[sstWarm2,'#fbaa60','warm-contour-2'],[sstWarm3,'#f46b3f','warm-contour-3'],[sstWarm4,'#d8322a','warm-contour-4'],
    [sstLightBlueEdge.concat(rev(8,31)),'#d8ecf4','cool-contour-1'],
    [sstMidBlueEdge.concat(rev(10,31)),'#9dd6e8','cool-contour-2'],
    [sstCyanEdge.concat(rev(14,29)),'#00f5f5','cool-contour-3'],
    [sstDeepBlueEdge.concat(rev(15,24)),'#0505dc','cool-contour-4'],
    [sstGrayBlueEdge.concat(rev(17,21)),'#1e28b4','cool-contour-5']
  ];
  layers.forEach(l => {
    make(clip, 'path', l[2], {d:straight(toPx(l[0]),true), fill:l[1]});
  });
  make(clip, 'path', 'coastline', {d:openSmooth(toPx(coastC)), fill:'none', stroke:'#555', 'stroke-width':2.6});
  make(clip, 'path', 'inlet-coastline', {d:straight(toPx(inletC),false), fill:'none', stroke:'#555', 'stroke-width':2.6});
  make(g, 'rect', 'map-frame', {x:1691, y:36, width:761, height:786, fill:'none', stroke:'#666', 'stroke-width':2.5});
  mapLatTicks.forEach((lat, i) => {
    make(g, 'line', 'lat-tick', {x1:1691, x2:1703, y1:yC(lat), y2:yC(lat), stroke:'#666', 'stroke-width':2});
    make(g, 'text', 'lat-tick-label', {x:1673, y:yC(lat), 'text-anchor':'end', 'dominant-baseline':'central', 'font-size':24, fill:'#444', 'stroke':'#444', 'stroke-width':.4}, mapLatLabels[i]);
    if (i < mapLatTicks.length-1) make(g, 'line', 'lat-minor-tick', {x1:1691, x2:1698, y1:yC(lat+.2), y2:yC(lat+.2), stroke:'#666', 'stroke-width':2});
  });
  mapLonTicks.forEach((lon, i) => {
    make(g, 'line', 'lon-tick', {x1:xC(lon), x2:xC(lon), y1:822, y2:810, stroke:'#666', 'stroke-width':2});
    if (i < mapLonTicks.length-1) make(g, 'line', 'lon-minor-tick', {x1:xC(lon+.2), x2:xC(lon+.2), y1:822, y2:815, stroke:'#666', 'stroke-width':2});
    make(g, 'text', 'lon-tick-label', {x:xC(lon)-8, y:844, 'text-anchor':'middle', 'dominant-baseline':'central', 'font-size':24, fill:'#444', 'stroke':'#444', 'stroke-width':.4}, mapLonLabelsC[i]);
  });
  make(g, 'text', 'minus-one-label', {x:2013, y:432, 'text-anchor':'middle', 'dominant-baseline':'central', 'font-size':34, 'font-weight':'bold', fill:'#fff'}, '-1');
  make(g, 'text', 'plus-one-label', {x:2382, y:760, 'text-anchor':'middle', 'dominant-baseline':'central', 'font-size':34, 'font-weight':'bold', fill:'#fff'}, '+1');
})();

/* ===== Panel d ===== */
(function(){
  const g = document.getElementById('panelD');
  const xD = lon => 1712.6 + (lon - 30.5) * 297.8;
  const yD = lat => 961 + (lat - 28) * 311.4;
  const toPx = arr => arr.map(a => [xD(a[0]), yD(a[1])]);
  const clip = make(g, 'g', 'wind-contours', {'clip-path':'url(#clipD)'});
  const layers = [
    [windLightOrange,'#fbdc8f','warm-contour-1'],[windOrange,'#fbaa60','warm-contour-2'],[windRedTop,'#f46b3f','warm-contour-top'],
    [windRedMid,'#f46b3f','warm-contour-mid'],[windRedLow,'#f46b3f','warm-contour-low'],
    [windLightBlue,'#ddf0f7','cool-contour-1'],[windMidBlue,'#a5d6ea','cool-contour-2'],[windTeal,'#63d3e8','cool-contour-3'],[windDeepBlue,'#0505e6','cool-contour-4']
  ];
  layers.forEach(l => {
    make(clip, 'path', l[2], {d:straight(toPx(l[0]),true), fill:l[1]});
  });
  make(clip, 'path', 'coastline', {d:openSmooth(toPx(coastD)), fill:'none', stroke:'#444', 'stroke-width':2.8});
  vectorLats.forEach((lat, r) => {
    vectorLons.forEach((lon, c) => {
      const u = vectorU[r][c], v = vectorV[r][c];
      const mag = Math.hypot(u, v);
      if (mag === 0) return;
      const x0 = xD(lon), y0 = yD(lat);
      const x1 = x0 + u * 10, y1 = y0 - v * 10;
      const ux = u / mag, uy = -v / mag;
      const hl = Math.min(11, 2 + mag * 1.5), hw = hl * .55;
      const bx = x1 - ux * hl, by = y1 - uy * hl;
      const head = [[x1,y1],[bx - uy*hw, by + ux*hw],[bx + uy*hw, by - ux*hw]];
      const core = mag > 5.5 ? '#6e6e6e' : '#222';
      const w = mag > 5.5 ? 3.2 : 2.6;
      const shape = 'M' + x0.toFixed(1) + ' ' + y0.toFixed(1) + 'L' + bx.toFixed(1) + ' ' + by.toFixed(1) + straight(head,true);
      make(clip, 'path', 'wind-vector-halo', {d:shape, fill:'#fff', stroke:'#fff', 'stroke-width':w + 3, 'stroke-linejoin':'round', 'stroke-linecap':'round'});
      make(clip, 'path', 'wind-vector', {d:shape, fill:core, stroke:core, 'stroke-width':w});
    });
  });
  make(g, 'rect', 'map-frame', {x:1712.6, y:961, width:744.4, height:778.5, fill:'none', stroke:'#666', 'stroke-width':2.5});
  mapLatTicks.forEach((lat, i) => {
    make(g, 'line', 'lat-tick', {x1:1712.6, x2:1724, y1:yD(lat), y2:yD(lat), stroke:'#666', 'stroke-width':2});
    if (i < mapLatTicks.length-1) make(g, 'line', 'lat-minor-tick', {x1:1712.6, x2:1719, y1:yD(lat+.2), y2:yD(lat+.2), stroke:'#666', 'stroke-width':2});
    make(g, 'text', 'lat-tick-label', {x:1696, y:yD(lat), 'text-anchor':'end', 'dominant-baseline':'central', 'font-size':24, fill:'#444', 'stroke':'#444', 'stroke-width':.4}, mapLatLabels[i]);
  });
  mapLonTicks.forEach((lon, i) => {
    make(g, 'line', 'lon-tick', {x1:xD(lon), x2:xD(lon), y1:1739.5, y2:1728, stroke:'#666', 'stroke-width':2});
    if (i < mapLonTicks.length-1) make(g, 'line', 'lon-minor-tick', {x1:xD(lon+.2), x2:xD(lon+.2), y1:1739.5, y2:1733, stroke:'#666', 'stroke-width':2});
    make(g, 'text', 'lon-tick-label', {x:i===0 ? 1728 : xD(lon)-3, y:1763, 'text-anchor':'middle', 'dominant-baseline':'central', 'font-size':24, fill:'#444', 'stroke':'#444', 'stroke-width':.4}, mapLonLabelsD[i]);
  });
  make(g, 'text', 'plus-one-label', {x:1854, y:1053, 'text-anchor':'middle', 'dominant-baseline':'central', 'font-size':34, 'font-weight':'bold', fill:'#fff'}, '+1');
  make(g, 'text', 'minus-one-label', {x:2388, y:1622, 'text-anchor':'middle', 'dominant-baseline':'central', 'font-size':34, 'font-weight':'bold', fill:'#fff'}, '-1');
})();
</script>
</body>
</html>
